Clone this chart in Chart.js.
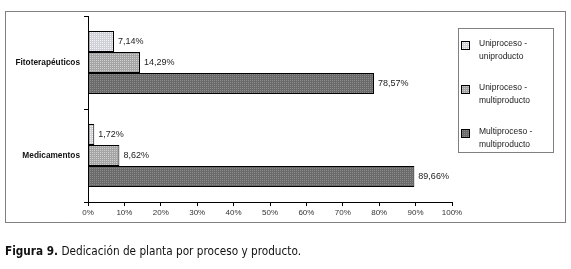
<!DOCTYPE html>
<html>
<head>
<meta charset="utf-8">
<script src="https://cdn.jsdelivr.net/npm/chart.js@4/dist/chart.umd.min.js"></script>
<style>
  html, body { margin: 0; padding: 0; background: #fff; }
  #wrap { width: 571px; height: 269px; position: relative; }
</style>
</head>
<body>
<div id="wrap"><canvas id="chart" width="571" height="269"></canvas></div>
<script>
const categories = ["Fitoterapéuticos", "Medicamentos"];
const seriesNames = [["Uniproceso -", "uniproducto"], ["Uniproceso -", "multiproducto"], ["Multiproceso -", "multiproducto"]];
const uniUni = [7.14, 1.72];
const uniMulti = [14.29, 8.62];
const multiMulti = [78.57, 89.66];
const xTicks = [0, 10, 20, 30, 40, 50, 60, 70, 80, 90, 100];
const caption = ["Figura 9.", " Dedicación de planta por proceso y producto."];

const FONT = "'Liberation Sans', Arial, sans-serif";

// small dotted texture like the printed original
function dots(base, dot) {
    const c = document.createElement("canvas");
    c.width = 2; c.height = 2;
    const g = c.getContext("2d");
    g.fillStyle = base;
    g.fillRect(0, 0, 2, 2);
    g.fillStyle = dot;
    g.fillRect(0, 0, 1, 1);
    return document.getElementById("chart").getContext("2d").createPattern(c, "repeat");
}
const fills = [dots("#cfcfd6", "#f4f4f8"), dots("#a4a4a4", "#cfcfcf"), dots("#6a6a6a", "#8c8c8c")];

const fmt = v => v.toFixed(2).replace(".", ",") + "%";

const extras = {
    id: "extras",
    afterDatasetsDraw(chart) {
        const ctx = chart.ctx;
        ctx.save();
        // value labels
        ctx.font = "9px " + FONT;
        ctx.fillStyle = "#222";
        ctx.textBaseline = "middle";
        chart.data.datasets.forEach((ds, i) => {
            chart.getDatasetMeta(i).data.forEach((bar, j) => {
                ctx.fillText(fmt(ds.data[j]), bar.x + 4, bar.y);
            });
        });
        ctx.restore();
    },
    afterDraw(chart) {
        const ctx = chart.ctx;
        ctx.save();
        ctx.strokeStyle = "#000";
        ctx.lineWidth = 1;
        ctx.setLineDash([1, 1]);
        ctx.strokeRect(5.5, 11.5, 560, 211);
        ctx.strokeRect(458.5, 28.5, 95, 124);
        ctx.setLineDash([]);

        // legend
        ctx.font = "8.5px " + FONT;
        ctx.textBaseline = "middle";
        chart.data.datasets.forEach((ds, i) => {
            const y = 45 + i * 44;
            ctx.fillStyle = ds.backgroundColor;
            ctx.fillRect(462, y - 3, 7, 7);
            ctx.strokeStyle = "#000";
            ctx.strokeRect(461.5, y - 3.5, 8, 8);
            ctx.fillStyle = "#222";
            ds.label.forEach((line, k) => ctx.fillText(line, 479, y - 1 + k * 13));
        });

        // caption
        ctx.textBaseline = "alphabetic";
        ctx.font = "bold 11.7px 'Liberation Sans Narrow', 'DejaVu Sans Condensed', " + FONT;
        ctx.fillStyle = "#111";
        ctx.fillText(caption[0], 5, 255);
        const w = ctx.measureText(caption[0]).width;
        ctx.font = "11.7px 'Liberation Sans Narrow', 'DejaVu Sans Condensed', " + FONT;
        ctx.fillText(caption[1], 5 + w, 255);
        ctx.restore();
    }
};

new Chart(document.getElementById("chart"), {
    type: "bar",
    data: {
        labels: categories,
        datasets: [uniUni, uniMulti, multiMulti].map((d, i) => ({
            label: seriesNames[i],
            data: d,
            backgroundColor: fills[i],
            borderColor: "#000",
            borderWidth: 1,
            borderSkipped: false,
            barPercentage: 1,
            categoryPercentage: 0.68,
        })),
    },
    options: {
        indexAxis: "y",
        responsive: false,
        animation: false,
        layout: { padding: { left: 5, right: 119, top: 16, bottom: 47 } },
        plugins: { legend: { display: false }, tooltip: { enabled: false } },
        scales: {
            x: {
                min: 0,
                max: 100,
                afterBuildTicks: s => { s.ticks = xTicks.map(v => ({ value: v })); },
                afterFit: s => { s.height = 20; },
                grid: { drawOnChartArea: false, color: "#000", tickLength: 4 },
                border: { color: "#000" },
                ticks: {
                    callback: v => v + "%",
                    font: { family: FONT, size: 8 },
                    color: "#333",
                    padding: 2,
                    maxRotation: 0,
                },
            },
            y: {
                afterFit: s => { s.width = 83; },
                grid: { drawOnChartArea: false, color: "#000", tickLength: 4, offset: true },
                border: { color: "#000" },
                ticks: {
                    font: { family: FONT, size: 8.3, weight: "bold" },
                    color: "#111",
                    padding: 4,
                },
            },
        },
    },
    plugins: [extras],
});
</script>
</body>
</html>
